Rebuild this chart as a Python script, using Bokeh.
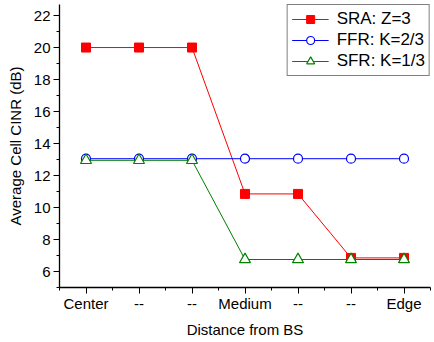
from bokeh.plotting import figure
from bokeh.models import FixedTicker, Legend, LegendItem, Range1d
from bokeh.embed import file_html
from bokeh.resources import INLINE

# Data
x_labels = ["Center", "--", "--", "Medium", "--", "--", "Edge"]
x_pos = list(range(len(x_labels)))
sra = [20.0, 20.0, 20.0, 10.85, 10.85, 6.85, 6.85]
ffr = [13.05, 13.05, 13.05, 13.05, 13.05, 13.05, 13.05]
sfr = [12.95, 12.95, 12.95, 6.75, 6.75, 6.75, 6.75]
y_ticks = [6, 8, 10, 12, 14, 16, 18, 20, 22]

FONT = "Liberation Sans"

p = figure(width=434, height=342, output_backend="svg", toolbar_location=None,
           x_range=Range1d(-0.5, 6.5), y_range=Range1d(5, 22.69),
           min_border_left=59, min_border_right=4, min_border_top=4,
           min_border_bottom=55)
p.outline_line_color = None
p.grid.visible = False
p.background_fill_color = "white"

red, blue, green = "#ff0000", "#0000ff", "#008000"

l1 = p.line(x_pos, sra, line_color=red, line_width=1)
m1 = p.scatter(x_pos, sra, marker="square", size=9, fill_color=red, line_color=red)
l2 = p.line(x_pos, ffr, line_color=blue, line_width=1)
m2 = p.scatter(x_pos, ffr, marker="circle", size=9, fill_color="white", line_color=blue, line_width=1.2)
l3 = p.line(x_pos, sfr, line_color=green, line_width=1)
m3 = p.scatter(x_pos, sfr, marker="triangle", size=11, fill_color="white", line_color=green, line_width=1.2)

# Axes
p.xaxis.ticker = FixedTicker(ticks=x_pos, minor_ticks=[i - 0.5 for i in range(8)])
p.xaxis.major_label_overrides = {i: lab for i, lab in enumerate(x_labels)}
p.yaxis.ticker = FixedTicker(ticks=y_ticks, minor_ticks=list(range(5, 23)))
for ax in (p.xaxis[0], p.yaxis[0]):
    ax.axis_line_color = "black"
    ax.axis_line_width = 1.3
    ax.major_tick_line_color = "black"
    ax.minor_tick_line_color = "black"
    ax.major_tick_in = 0
    ax.minor_tick_in = 0
    ax.major_tick_out = 6
    ax.minor_tick_out = 3
    ax.major_label_text_font = FONT
    ax.major_label_text_font_size = "15px"
    ax.major_label_text_color = "black"
    ax.axis_label_text_font = FONT
    ax.axis_label_text_font_size = "15px"
    ax.axis_label_text_font_style = "normal"
    ax.axis_label_text_color = "black"

p.xaxis.axis_label = "Distance from BS"
p.xaxis.major_label_standoff = 1
p.xaxis.axis_label_standoff = 6
p.yaxis.axis_label = "Average Cell CINR (dB)"
p.yaxis.major_label_standoff = 3
p.yaxis.axis_label_standoff = 7

legend = Legend(items=[
    LegendItem(label="SRA: Z=3", renderers=[l1, m1]),
    LegendItem(label="FFR: K=2/3", renderers=[l2, m2]),
    LegendItem(label="SFR: K=1/3", renderers=[l3, m3]),
], location="top_right")
legend.label_text_font = FONT
legend.label_text_font_size = "17px"
legend.label_text_color = "black"
legend.glyph_width = 37
legend.glyph_height = 20
legend.label_height = 20
legend.spacing = 1
legend.padding = 4
legend.margin = 0
legend.label_standoff = 8
legend.border_line_color = "black"
legend.border_line_width = 1.3
legend.background_fill_color = "white"
legend.background_fill_alpha = 1.0
p.add_layout(legend, "center")

open("out.html", "w").write(file_html(p, INLINE))
